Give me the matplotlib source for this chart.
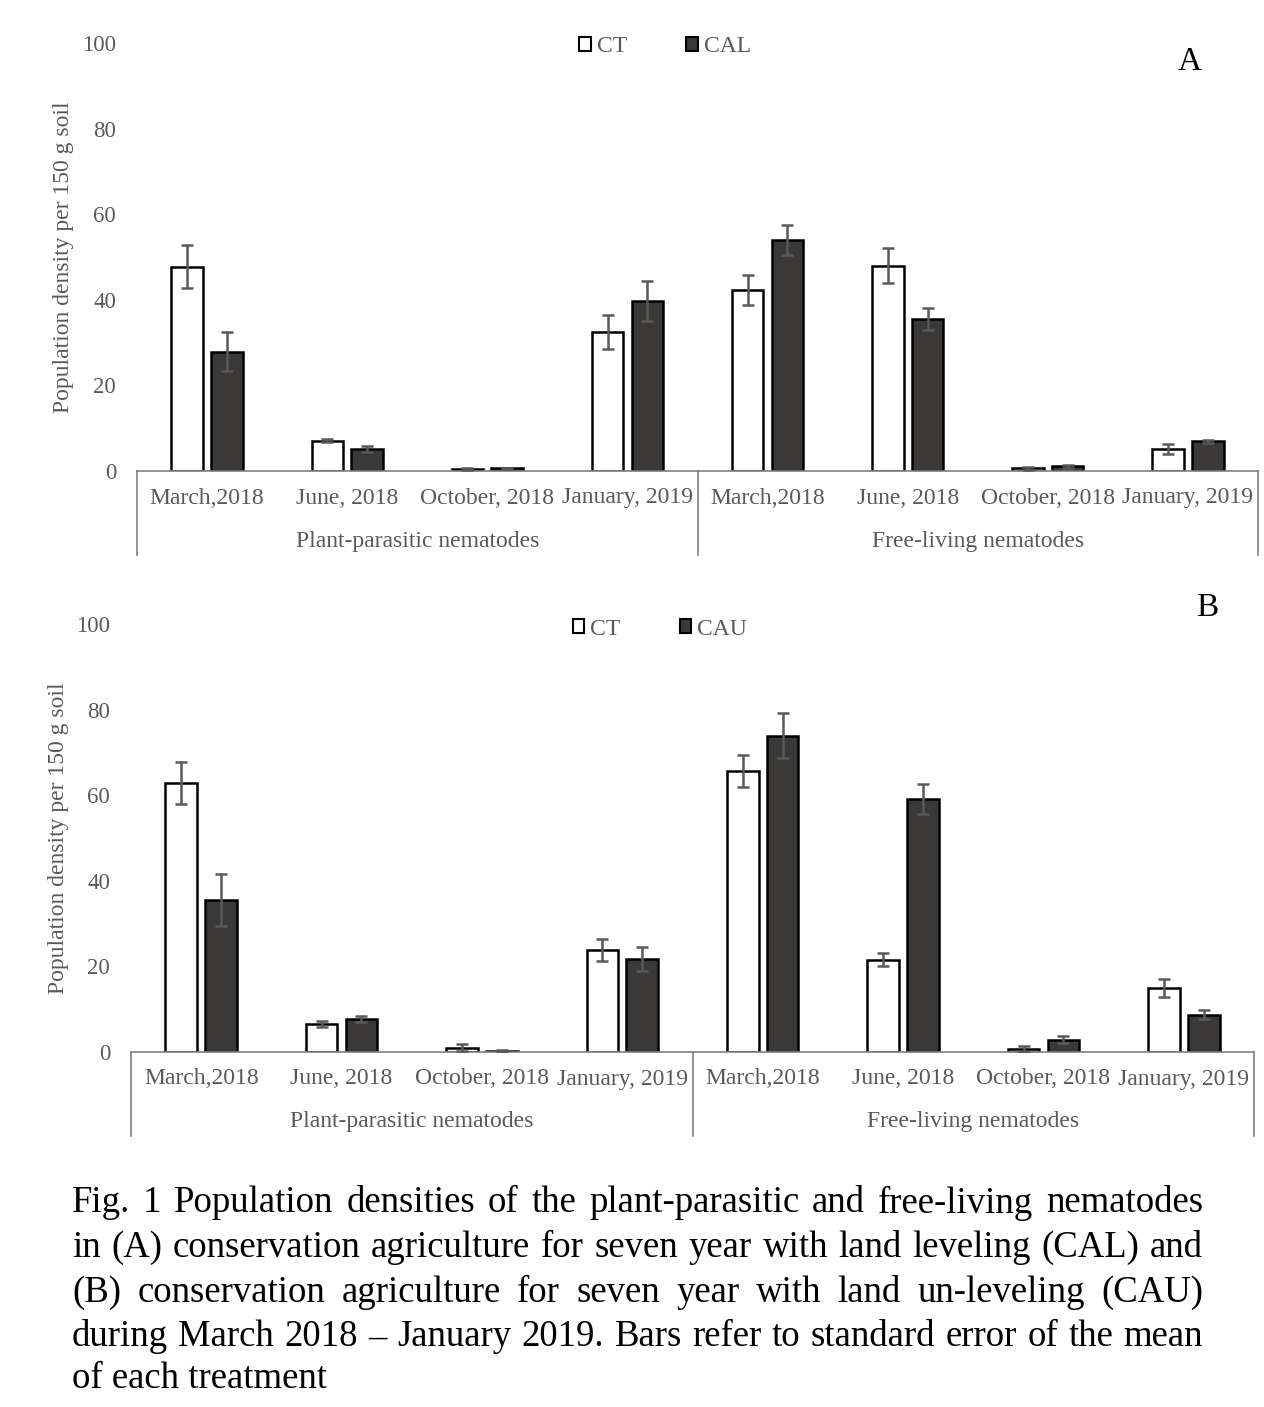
import matplotlib
matplotlib.use("Agg")
import matplotlib.pyplot as plt
from matplotlib.patches import Patch
import numpy as np

plt.rcParams['font.family'] = ['Liberation Serif', 'DejaVu Serif']

months = ["March,2018", "June, 2018", "October, 2018", "January, 2019"]
groups = ["Plant-parasitic nematodes", "Free-living nematodes"]

# Panel A (CT vs CAL): plant-parasitic then free-living
a_ct = [47.7, 7.1, 0.4, 32.5, 42.4, 48.0, 0.6, 5.2]
a_ct_se = [5.0, 0.4, 0.2, 4.0, 3.5, 4.0, 0.3, 1.2]
a_cal = [27.9, 5.2, 0.6, 39.8, 54.0, 35.6, 1.1, 6.9]
a_cal_se = [4.6, 0.7, 0.2, 4.7, 3.5, 2.6, 0.4, 0.4]

# Panel B (CT vs CAU)
b_ct = [62.9, 6.6, 1.0, 23.9, 65.7, 21.6, 0.8, 15.0]
b_ct_se = [4.9, 0.7, 0.8, 2.6, 3.8, 1.6, 0.7, 2.1]
b_cau = [35.6, 7.8, 0.3, 21.8, 73.9, 59.2, 2.9, 8.7]
b_cau_se = [6.1, 0.7, 0.2, 2.8, 5.2, 3.5, 0.9, 1.0]

yticks = [0, 20, 40, 60, 80, 100]
ylabel = "Population density per 150 g soil"
caption_lines = [
    "Fig. 1 Population densities of the plant-parasitic and free-living nematodes",
    "in (A) conservation agriculture for seven year with land leveling (CAL) and",
    "(B) conservation agriculture for seven year with land un-leveling (CAU)",
    "during March 2018 \u2013 January 2019. Bars refer to standard error of the mean",
    "of each treatment",
]

W, H = 1264, 1407
fig = plt.figure(figsize=(W / 100, H / 100), dpi=100)

GRAY = "#595959"
LINE = "#7f7f7f"
DARK = "#3b3838"


def make_panel(rect_px, ct, ct_se, tr, tr_se, trname, letter, letter_pos, leg_y, ylab_x):
    l, r, top, bot = rect_px
    ax = fig.add_axes([l / W, 1 - bot / H, (r - l) / W, (bot - top) / H])
    n = len(ct)
    x = np.arange(n) + 0.5
    bw = 0.225
    off = 0.142
    ax.bar(x - off, ct, bw, color="white", edgecolor="black", linewidth=1.8, zorder=2)
    ax.bar(x + off, tr, bw, color=DARK, edgecolor="black", linewidth=1.8, zorder=2)
    ax.errorbar(x - off, ct, yerr=ct_se, fmt="none", ecolor=GRAY, elinewidth=1.8,
                capsize=4, capthick=1.8, zorder=3)
    ax.errorbar(x + off, tr, yerr=tr_se, fmt="none", ecolor=GRAY, elinewidth=1.8,
                capsize=4, capthick=1.8, zorder=3)
    ax.set_xlim(0, n)
    ax.set_ylim(0, 100)
    ax.set_yticks(yticks)
    ax.tick_params(axis="y", length=0, pad=15, labelsize=16.5, labelcolor=GRAY)
    ax.set_xticks([])
    for s in ["top", "right", "left"]:
        ax.spines[s].set_visible(False)
    ax.spines["bottom"].set_color(LINE)
    ax.spines["bottom"].set_linewidth(1.2)
    ax.set_ylabel(ylabel, fontsize=17, color=GRAY)
    ax.yaxis.set_label_coords((ylab_x - l) / (r - l), 0.5)
    # multi-level category axis
    ph = bot - top
    y_month = -27 / ph
    y_group = -70 / ph
    y_line = -84 / ph
    for i, m in enumerate(months * 2):
        ax.text((i + 0.5) / n, y_month, m, transform=ax.transAxes, ha="center",
                va="center", fontsize=17, color=GRAY)
    for j, g in enumerate(groups):
        ax.text(0.25 + 0.5 * j, y_group, g, transform=ax.transAxes, ha="center",
                va="center", fontsize=17, color=GRAY)
    for xv in [0, 0.5, 1.0]:
        ax.plot([xv, xv], [0, y_line], transform=ax.transAxes, color=LINE,
                lw=1.2, clip_on=False)
    handles = [Patch(facecolor="white", edgecolor="black", linewidth=1.5, label="CT"),
               Patch(facecolor=DARK, edgecolor="black", linewidth=1.5, label=trname)]
    leg = ax.legend(handles=handles, loc="center", bbox_to_anchor=(0.471, leg_y),
                    ncol=2, frameon=False, fontsize=17, handlelength=0.5,
                    handleheight=0.5, handletextpad=0.25, columnspacing=2.5)
    for t in leg.get_texts():
        t.set_color(GRAY)
    ax.text(letter_pos[0], letter_pos[1], letter, transform=ax.transAxes,
            ha="center", va="center", fontsize=24, color="black")
    return ax


make_panel((137, 1258, 43, 471), a_ct, a_ct_se, a_cal, a_cal_se, "CAL", "A",
           ((1190 - 137) / 1121, (471 - 62) / 428), (471 - 47) / 428, 74)
make_panel((131, 1254, 624, 1052), b_ct, b_ct_se, b_cau, b_cau_se, "CAU", "B",
           ((1207 - 131) / 1123, (1052 - 608) / 428), (1052 - 629) / 428, 69)

# caption, justified
fig.canvas.draw()
renderer = fig.canvas.get_renderer()
cap_fs = 26.5
x0, x1 = 72, 1203
ys = [1203, 1248, 1293, 1337, 1379]
for k, line in enumerate(caption_lines):
    yfig = 1 - ys[k] / H
    words = line.split(" ")
    if k == len(caption_lines) - 1:
        fig.text(x0 / W, yfig, line, fontsize=cap_fs, va="center", ha="left")
        continue
    texts = [fig.text(0, yfig, w, fontsize=cap_fs, va="center", ha="left") for w in words]
    widths = [t.get_window_extent(renderer).width for t in texts]
    gap = (x1 - x0 - sum(widths)) / (len(words) - 1)
    xp = x0
    for t, wd in zip(texts, widths):
        t.set_x(xp / W)
        xp += wd + gap

fig.savefig("out.png", dpi=100)
